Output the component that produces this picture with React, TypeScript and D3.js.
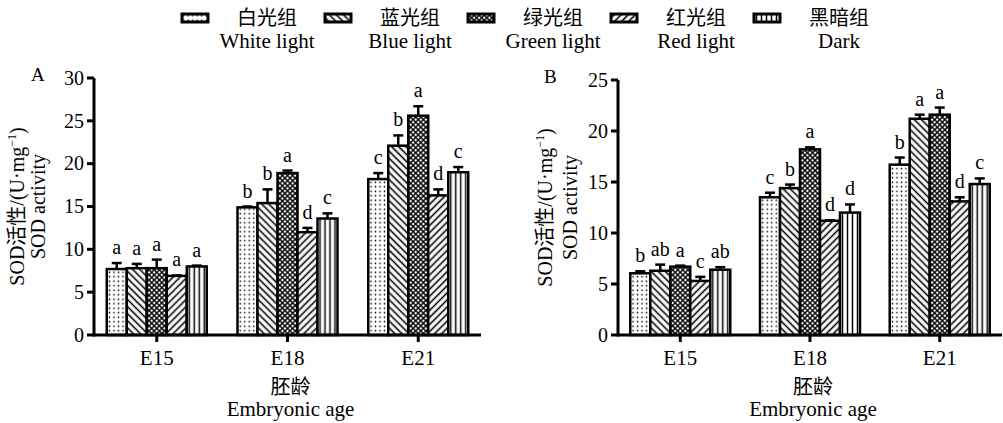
import React from "react";
import { scaleLinear, scalePoint, scaleBand } from "d3";

const width = 1003;
const height = 423;

const groups = ["E15", "E18", "E21"];
const seriesKeys = ["white", "blue", "green", "red", "dark"];
const seriesZh = ["白光组", "蓝光组", "绿光组", "红光组", "黑暗组"];
const seriesEn = ["White light", "Blue light", "Green light", "Red light", "Dark"];

// panel A: rows = embryonic age, columns = light group
const aMeans = [
  [7.7, 7.8, 7.8, 6.9, 8.0],
  [14.9, 15.4, 18.9, 12.0, 13.6],
  [18.2, 22.1, 25.6, 16.3, 19.0],
];
const aErr = [
  [0.7, 0.5, 1.0, 0.05, 0.1],
  [0.1, 1.6, 0.3, 0.5, 0.6],
  [0.7, 1.2, 1.1, 0.7, 0.6],
];
const aLetters = [
  ["a", "a", "a", "a", "a"],
  ["b", "b", "a", "d", "c"],
  ["c", "b", "a", "d", "c"],
];
const aTicks = [0, 5, 10, 15, 20, 25, 30];

// panel B
const bMeans = [
  [6.05, 6.3, 6.7, 5.3, 6.4],
  [13.5, 14.4, 18.2, 11.2, 12.0],
  [16.7, 21.2, 21.6, 13.1, 14.8],
];
const bErr = [
  [0.2, 0.6, 0.1, 0.4, 0.25],
  [0.45, 0.35, 0.2, 0.05, 0.8],
  [0.7, 0.4, 0.7, 0.4, 0.55],
];
const bLetters = [
  ["b", "ab", "a", "c", "ab"],
  ["c", "b", "a", "d", "d"],
  ["b", "a", "a", "d", "c"],
];
const bTicks = [0, 5, 10, 15, 20, 25];

const serif = '"Liberation Serif", "Times New Roman", "DejaVu Serif", "Noto Sans CJK SC", serif';
const axisW = 3;
const barStroke = 2.5;
const barWidth = 20;
const tickLen = 7;
const fontSize = 20;

const fills = {
  white: "url(#pat-dots)",
  blue: "url(#pat-back)",
  green: "url(#pat-cross)",
  red: "url(#pat-fwd)",
  dark: "url(#pat-vert)",
};

function Patterns() {
  return (
    <defs>
      <pattern id="pat-dots" width={4.5} height={4.5} patternUnits="userSpaceOnUse">
        <rect width={4.5} height={4.5} fill="#fff" />
        <circle cx={2.25} cy={2.25} r={0.8} fill="#000" />
      </pattern>
      <pattern
        id="pat-back"
        width={5}
        height={5}
        patternUnits="userSpaceOnUse"
        patternTransform="rotate(-45)"
      >
        <rect width={5} height={5} fill="#fff" />
        <line x1={2.5} x2={2.5} y1={0} y2={5} stroke="#000" strokeWidth={1.6} />
      </pattern>
      <pattern
        id="pat-fwd"
        width={5}
        height={5}
        patternUnits="userSpaceOnUse"
        patternTransform="rotate(45)"
      >
        <rect width={5} height={5} fill="#fff" />
        <line x1={2.5} x2={2.5} y1={0} y2={5} stroke="#000" strokeWidth={1.6} />
      </pattern>
      <pattern
        id="pat-cross"
        width={3.6}
        height={3.6}
        patternUnits="userSpaceOnUse"
        patternTransform="rotate(45)"
      >
        <rect width={3.6} height={3.6} fill="#fff" />
        <line x1={1.8} x2={1.8} y1={0} y2={3.6} stroke="#000" strokeWidth={1.4} />
        <line y1={1.8} y2={1.8} x1={0} x2={3.6} stroke="#000" strokeWidth={1.4} />
      </pattern>
      <pattern id="pat-vert" width={5} height={5} patternUnits="userSpaceOnUse">
        <rect width={5} height={5} fill="#fff" />
        <line x1={2.5} x2={2.5} y1={0} y2={5} stroke="#000" strokeWidth={1.5} />
      </pattern>
    </defs>
  );
}

function Panel({ left, right, top, bottom, means, errs, letters, ticks, label, labelX, titleOffset }) {
  const yScale = scaleLinear()
    .domain([0, ticks[ticks.length - 1]])
    .range([bottom, top]);
  const xScale = scalePoint().domain(groups).range([left, right]).padding(0.48);
  const inner = scaleBand()
    .domain(seriesKeys)
    .range([-barWidth * 2.5, barWidth * 2.5]);
  const midY = (top + bottom) / 2;

  return (
    <g style={{ fontFamily: serif }} fill="#000">
      <text x={labelX} y={top + 3} fontSize={19}>
        {label}
      </text>
      {groups.map((g, gi) => (
        <g key={g} transform={`translate(${xScale(g)},0)`}>
          {seriesKeys.map((k, si) => {
            const x = inner(k);
            const yTop = yScale(means[gi][si]);
            const yErr = yScale(means[gi][si] + errs[gi][si]);
            const cx = x + inner.bandwidth() / 2;
            return (
              <g key={k}>
                <line x1={cx} x2={cx} y1={yTop} y2={yErr} stroke="#000" strokeWidth={2.5} />
                <line x1={cx - 5} x2={cx + 5} y1={yErr} y2={yErr} stroke="#000" strokeWidth={2.5} />
                <rect
                  x={x}
                  y={yTop}
                  width={inner.bandwidth()}
                  height={bottom - yTop}
                  fill={fills[k]}
                  stroke="#000"
                  strokeWidth={barStroke}
                />
                <text x={cx} y={yErr - 9} fontSize={fontSize} textAnchor="middle">
                  {letters[gi][si]}
                </text>
              </g>
            );
          })}
          <line y1={bottom} y2={bottom + tickLen} stroke="#000" strokeWidth={axisW} />
          <text y={bottom + 30} fontSize={21} textAnchor="middle">
            {g}
          </text>
        </g>
      ))}
      <line x1={left} x2={right} y1={bottom} y2={bottom} stroke="#000" strokeWidth={axisW} />
      <line x1={left} x2={left} y1={top} y2={bottom + axisW / 2} stroke="#000" strokeWidth={axisW} />
      {ticks.map((t) => (
        <g key={t} transform={`translate(${left},${yScale(t)})`}>
          <line x1={-tickLen} x2={0} stroke="#000" strokeWidth={axisW} />
          <text x={-tickLen - 3} dy="0.34em" fontSize={fontSize} textAnchor="end">
            {t}
          </text>
        </g>
      ))}
      <g transform={`translate(${left - titleOffset[0]},${midY}) rotate(-90)`}>
        <text fontSize={20} textAnchor="middle">
          SOD活性/(U·mg
          <tspan fontSize={12} dy={-8}>
            −1
          </tspan>
          <tspan dy={8}>)</tspan>
        </text>
      </g>
      <g transform={`translate(${left - titleOffset[1]},${midY}) rotate(-90)`}>
        <text fontSize={20} textAnchor="middle">
          SOD activity
        </text>
      </g>
      <text x={(left + right) / 2 + 3} y={bottom + 59} fontSize={20} textAnchor="middle">
        胚龄
      </text>
      <text x={(left + right) / 2 + 3} y={bottom + 81} fontSize={21} textAnchor="middle">
        Embryonic age
      </text>
    </g>
  );
}

function Legend() {
  const lx = scalePoint().domain(seriesKeys).range([267, 839]);
  return (
    <g style={{ fontFamily: serif }} fill="#000">
      {seriesKeys.map((k, i) => (
        <g key={k} transform={`translate(${lx(k)},0)`}>
          <rect x={-85} y={14} width={26} height={8} fill={fills[k]} stroke="#000" strokeWidth={3} />
          <text y={25} fontSize={20} textAnchor="middle">
            {seriesZh[i]}
          </text>
          <text y={48} fontSize={21} textAnchor="middle">
            {seriesEn[i]}
          </text>
        </g>
      ))}
    </g>
  );
}

export default function App() {
  return (
    <svg
      width={width}
      height={height}
      viewBox={`0 0 ${width} ${height}`}
      style={{ position: "absolute", left: 0, top: 0, background: "#fff" }}
    >
      <Patterns />
      <rect width={width} height={height} fill="#fff" />
      <Legend />
      <Panel
        left={94}
        right={481}
        top={78}
        bottom={335}
        means={aMeans}
        errs={aErr}
        letters={aLetters}
        ticks={aTicks}
        label="A"
        labelX={31}
        titleOffset={[70, 49]}
      />
      <Panel
        left={618}
        right={1002}
        top={80}
        bottom={335}
        means={bMeans}
        errs={bErr}
        letters={bLetters}
        ticks={bTicks}
        label="B"
        labelX={544}
        titleOffset={[66, 41]}
      />
    </svg>
  );
}
